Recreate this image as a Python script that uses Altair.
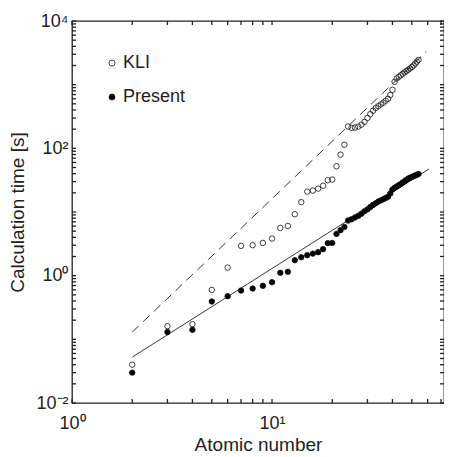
import altair as alt
import pandas as pd

# Atomic numbers He..Xe
Z = list(range(2, 55))
kli = [0.040, 0.161, 0.173, 0.598, 1.34, 2.94, 3.01, 3.27, 3.83, 5.62, 6.05, 9.23,
       14.3, 20.9, 21.7, 23.3, 25.9, 31.6, 32.3, 52.3, 79.6, 114,
       220, 210, 212, 220, 235, 260, 300, 345, 390, 430, 460, 490, 520, 560, 600,
       690, 830, 1110, 1250, 1330, 1400, 1480, 1560, 1640, 1720, 1800, 1900, 2000,
       2150, 2300, 2450]
present = [0.030, 0.130, 0.141, 0.393, 0.476, 0.584, 0.628, 0.692, 0.79, 1.11, 1.15,
           1.75, 1.95, 2.10, 2.22, 2.34, 2.61, 3.24, 3.27, 4.53, 5.18, 5.83,
           7.35, 7.7, 8.2, 8.7, 9.4, 10.3, 11.0, 12.0, 12.9, 13.7, 14.6, 15.2, 15.9,
           16.6, 17.4, 19.5, 22.5, 24.0, 25.1, 26.3, 27.5, 29.0, 30.5, 32.0, 33.5,
           34.5, 35.5, 36.5, 37.5, 38.5, 39.6]

# reference lines (Z^3 dashed, Z^2 solid), endpoints
dash_z = [2, 59]
dash_t = [0.13, 3300]
solid_z = [2, 61]
solid_t = [0.0525, 47.5]

x_ticks = [1, 2, 3, 4, 5, 6, 7, 8, 9, 10, 20, 30, 40, 50, 60, 70]
y_ticks = [m * 10.0 ** e for e in range(-2, 4) for m in range(1, 10)] + [10000]
x_labels = [1, 10]
y_labels = [0.01, 1, 100, 10000]

W, H = 372, 382
TICK = 4
FONT = "Liberation Sans"
TXT = "#222222"
AX = "#222222"

pts = pd.DataFrame({
    "Z": Z + Z,
    "T": kli + present,
    "series": ["KLI"] * len(Z) + ["Present"] * len(Z),
})
dash_df = pd.DataFrame({"Z": dash_z, "T": dash_t})
solid_df = pd.DataFrame({"Z": solid_z, "T": solid_t})
xt_df = pd.DataFrame({"Z": x_ticks})
yt_df = pd.DataFrame({"T": y_ticks})

xscale = alt.Scale(type="log", domain=[1, 72.4], nice=False)
yscale = alt.Scale(type="log", domain=[0.01, 10000], nice=False)

x_axis = alt.Axis(
    orient="bottom", values=x_labels, ticks=False, grid=False, domain=False,
    labelFlush=False, labelOverlap=False,
    labelExpr="datum.value == 1 ? '10⁰' : '10¹'",
    labelFont=FONT, labelFontSize=18, labelColor=TXT, labelPadding=11,
    title="Atomic number", titleFont=FONT, titleFontSize=19,
    titleFontWeight="normal", titleColor=TXT, titlePadding=3)

y_axis = alt.Axis(
    orient="left", values=y_labels, ticks=False, grid=False, domain=False,
    labelFlush=False, labelOverlap=False,
    labelExpr="datum.value < 0.1 ? '10⁻²' : datum.value < 10 ? '10⁰' : datum.value < 1000 ? '10²' : '10⁴'",
    labelFont=FONT, labelFontSize=18, labelColor=TXT, labelPadding=4,
    title="Calculation time [s]", titleFont=FONT, titleFontSize=19,
    titleFontWeight="normal", titleColor=TXT, titlePadding=8)


def X():
    return alt.X("Z:Q", scale=xscale, axis=x_axis)


def Y():
    return alt.Y("T:Q", scale=yscale, axis=y_axis)


dashed = alt.Chart(dash_df).mark_line(
    strokeDash=[9, 6], color="#222222", strokeWidth=0.9
).encode(x=X(), y=Y())

solid = alt.Chart(solid_df).mark_line(color="#222222", strokeWidth=0.9).encode(
    x=X(), y=Y())

# inward tick marks on all four sides (positions from the scales)
xt = alt.Chart(xt_df)
yt = alt.Chart(yt_df)
tick_kw = dict(color=AX, strokeWidth=1.3)
ticks_bottom = xt.mark_rule(**tick_kw).encode(
    x=X(), y=alt.value(H), y2=alt.value(H - TICK))
ticks_top = xt.mark_rule(**tick_kw).encode(
    x=X(), y=alt.value(0), y2=alt.value(TICK))
ticks_left = yt.mark_rule(**tick_kw).encode(
    y=Y(), x=alt.value(0), x2=alt.value(TICK))
ticks_right = yt.mark_rule(**tick_kw).encode(
    y=Y(), x=alt.value(W), x2=alt.value(W - TICK))

points = alt.Chart(pts).mark_point(
    filled=True, stroke="#111111", strokeWidth=0.8, size=30, opacity=1
).encode(
    x=X(), y=Y(),
    fill=alt.Fill("series:N",
                  scale=alt.Scale(domain=["KLI", "Present"], range=["transparent", "black"]),
                  legend=alt.Legend(
                      title=None, orient="none", legendX=31, legendY=33,
                      padding=0, rowPadding=16, symbolType="circle", symbolSize=36,
                      symbolStrokeColor="#111111", symbolStrokeWidth=0.8,
                      labelFont=FONT, labelFontSize=18, labelColor=TXT,
                      labelOffset=2)),
)

chart = alt.layer(
    dashed, solid, ticks_bottom, ticks_top, ticks_left, ticks_right, points
).properties(
    width=W, height=H,
    autosize=alt.AutoSizeParams(type="none"),
    padding={"left": 64, "top": 13, "right": 0, "bottom": 54},
    background="white",
).configure_view(stroke=AX, strokeWidth=1.3)

chart.save("out.html", embed_options={"renderer": "svg", "actions": False})
